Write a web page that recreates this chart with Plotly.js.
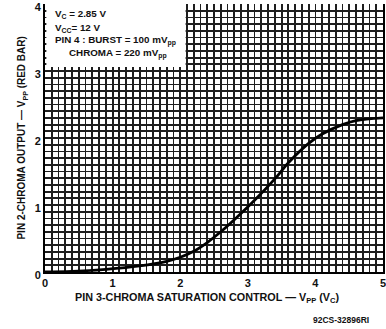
<!DOCTYPE html>
<html>
<head>
<meta charset="utf-8">
<script src="https://cdn.plot.ly/plotly-3.0.1.min.js"></script>
<style>html,body{margin:0;padding:0;background:#fff;}#chart{width:386px;height:329px;}</style>
</head>
<body>
<div id="chart"></div>
<script>
// Pin 3 chroma saturation control (Vpp) vs Pin 2 chroma output (Vpp)
const controlVpp = [0, 0.4, 0.9, 1.4, 1.8, 2.0, 2.2, 2.4, 2.6, 2.8, 3.1, 3.4, 3.6, 3.9, 4.1, 4.4, 4.6, 5.0];
const outputVpp  = [0, 0.01, 0.04, 0.09, 0.16, 0.22, 0.31, 0.44, 0.60, 0.78, 1.07, 1.39, 1.63, 1.92, 2.06, 2.20, 2.26, 2.30];
const xTickLabels = ["0", "1", "2", "3", "4", "5"];   // at 0..5
const yTickLabels = ["0", "1", "2", "3", "4"];        // at 0..4
const gridStep = 0.1;
const conditionLines = [
  "V<sub>C</sub> = 2.85 V",
  "V<sub>CC</sub>= 12 V",
  "PIN 4 : BURST = 100 mV<sub>pp</sub>",
  "CHROMA = 220 mV<sub>pp</sub>"
];

function gridTicks(labels) {
  const n = (labels.length - 1) * 10;
  const vals = [], text = [];
  for (let i = 0; i <= n; i++) {
    vals.push(+(i * gridStep).toFixed(2));
    text.push(i % 10 === 0 ? labels[i / 10] : "");
  }
  return {vals, text};
}
const xt = gridTicks(xTickLabels), yt = gridTicks(yTickLabels);

const FONT = "Liberation Sans, Arial, sans-serif";
const ink = "#111";

const trace = {
  x: controlVpp, y: outputVpp, type: "scatter", mode: "lines",
  line: {color: "#000", width: 2.8, shape: "spline", smoothing: 1},
  hoverinfo: "skip"
};

const gridCol = "#1e1e1e";
const layout = {
  width: 386, height: 329,
  margin: {l: 45, r: 3, t: 4, b: 57},
  paper_bgcolor: "#fff", plot_bgcolor: "#fff",
  showlegend: false,
  font: {family: FONT, color: ink},
  xaxis: {
    range: [0, 5], tickmode: "array", tickvals: xt.vals, ticktext: xt.text,
    showgrid: true, gridcolor: gridCol, gridwidth: 1.8,
    showline: true, linecolor: "#000", linewidth: 2,
    zeroline: false, ticks: "", fixedrange: true, ticklabeloverflow: "allow",
    tickfont: {family: FONT, size: 11, color: ink, weight: "bold"}
  },
  yaxis: {
    range: [0, 4], tickmode: "array", tickvals: yt.vals, ticktext: yt.text,
    showgrid: true, gridcolor: gridCol, gridwidth: 1.8,
    showline: true, linecolor: "#000", linewidth: 2, mirror: true,
    zeroline: false, ticks: "", fixedrange: true, ticklabeloverflow: "allow",
    ticklabelshift: 3,
    tickfont: {family: FONT, size: 11, color: ink, weight: "bold"}
  },
  shapes: [{
    type: "rect", xref: "x", yref: "y", x0: 0.02, x1: 2.08, y0: 3.06, y1: 4.0,
    fillcolor: "#fff", line: {width: 0}, layer: "above"
  }],
  annotations: [
    {xref: "paper", yref: "paper", x: -0.068, y: 0.498, textangle: -90, showarrow: false,
     xanchor: "center", yanchor: "middle",
     text: "PIN 2-CHROMA OUTPUT — V<sub>PP</sub> (RED BAR)",
     font: {family: FONT, size: 10, color: ink, weight: "bold"}},
    {xref: "paper", yref: "paper", x: 0.479, y: -0.097, showarrow: false,
     xanchor: "center", yanchor: "middle",
     text: "PIN 3-CHROMA SATURATION CONTROL — V<sub>PP</sub> (V<sub>C</sub>)",
     font: {family: FONT, size: 10.8, color: ink, weight: "bold"}},
    {xref: "paper", yref: "paper", x: 0.876, y: -0.178, showarrow: false,
     xanchor: "center", yanchor: "middle",
     text: "92CS-32896RI",
     font: {family: FONT, size: 8.5, color: ink, weight: "bold"}},
    {xref: "paper", yref: "paper", x: 0.0237, y: 0.963, showarrow: false, xanchor: "left", yanchor: "middle",
     text: conditionLines[0], font: {family: FONT, size: 9.8, color: ink, weight: "bold"}},
    {xref: "paper", yref: "paper", x: 0.0237, y: 0.911, showarrow: false, xanchor: "left", yanchor: "middle",
     text: conditionLines[1], font: {family: FONT, size: 9.8, color: ink, weight: "bold"}},
    {xref: "paper", yref: "paper", x: 0.0237, y: 0.862, showarrow: false, xanchor: "left", yanchor: "middle",
     text: conditionLines[2], font: {family: FONT, size: 9.8, color: ink, weight: "bold"}},
    {xref: "paper", yref: "paper", x: 0.065, y: 0.814, showarrow: false, xanchor: "left", yanchor: "middle",
     text: conditionLines[3], font: {family: FONT, size: 9.8, color: ink, weight: "bold"}}
  ]
};

Plotly.newPlot("chart", [trace], layout, {displayModeBar: false, staticPlot: true});
</script>
</body>
</html>
